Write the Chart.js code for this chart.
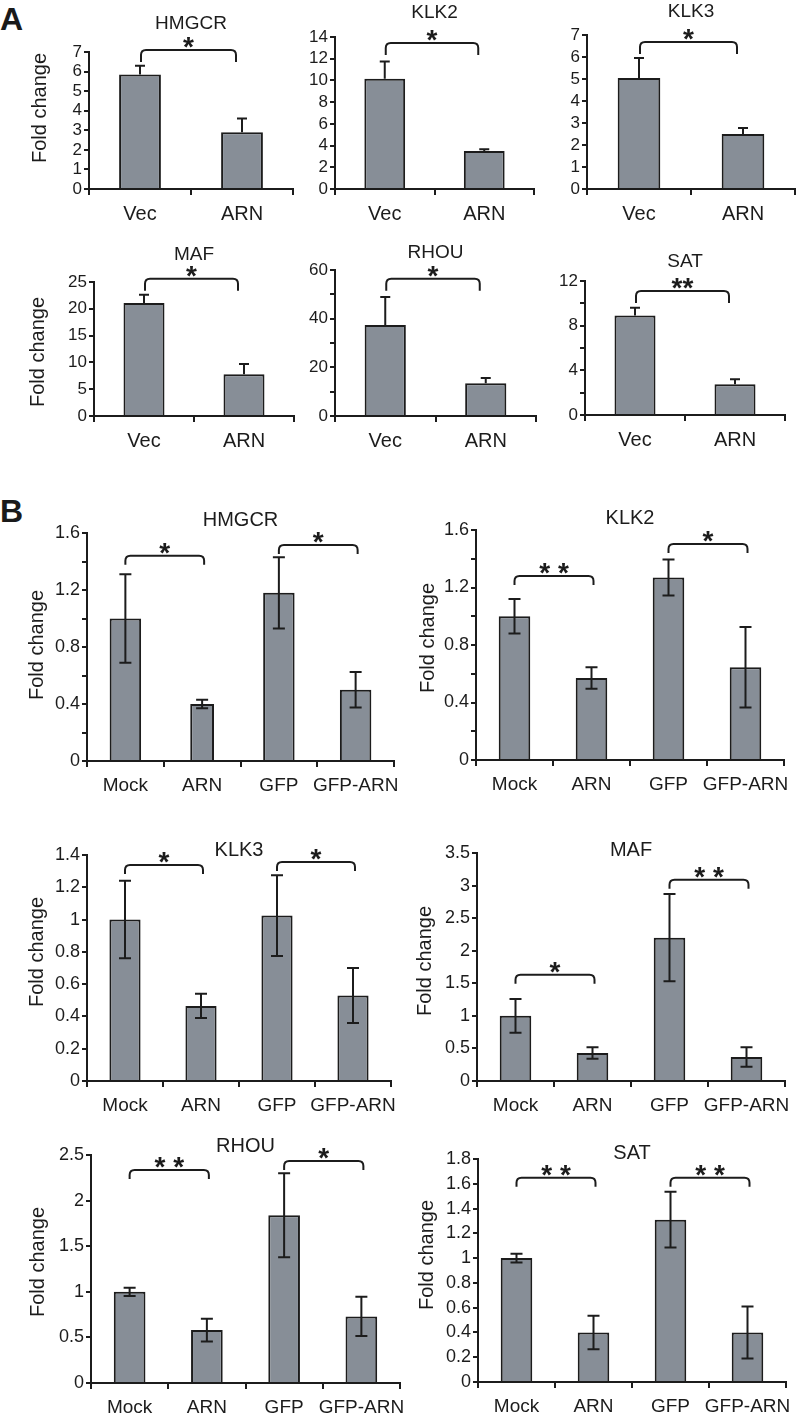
<!DOCTYPE html>
<html><head><meta charset="utf-8">
<script src="https://cdn.jsdelivr.net/npm/chart.js@4.4.1/dist/chart.umd.min.js"></script>
<style>
html,body{margin:0;padding:0;background:#fff;}
#page{position:relative;width:800px;height:1415px;overflow:hidden;background:#fff;}
#page canvas{position:absolute;}
.letter{position:absolute;font:bold 32px 'Liberation Sans',Arial,sans-serif;line-height:32px;color:#1a1a1a;}
</style></head><body><div id="page">
<div class="letter" style="left:0px;top:3px">A</div>
<div class="letter" style="left:0px;top:495px">B</div>
</div>
<script>
// ---------- DATA ----------
const catsA = ['Vec', 'ARN'];
const catsB = ['Mock', 'ARN', 'GFP', 'GFP-ARN'];
const genes = ['HMGCR', 'KLK2', 'KLK3', 'MAF', 'RHOU', 'SAT'];

// Panel A: mean fold change and (upper) error
const meanA_HMGCR = [5.85, 2.9];   const errA_HMGCR = [0.45, 0.7];
const meanA_KLK2  = [10.15, 3.5];  const errA_KLK2  = [1.6, 0.15];
const meanA_KLK3  = [5.05, 2.5];   const errA_KLK3  = [0.9, 0.27];
const meanA_MAF   = [21.1, 7.8];   const errA_MAF   = [1.5, 1.9];
const meanA_RHOU  = [37.4, 13.5];  const errA_RHOU  = [11.5, 2.1];
const meanA_SAT   = [8.9, 2.75];   const errA_SAT   = [0.7, 0.45];

// Panel B: mean fold change and error (+/-)
const meanB_HMGCR = [1.0, 0.40, 1.18, 0.50];  const errB_HMGCR = [0.31, 0.03, 0.25, 0.125];
const meanB_KLK2  = [1.0, 0.57, 1.27, 0.645]; const errB_KLK2  = [0.12, 0.075, 0.125, 0.28];
const meanB_KLK3  = [1.0, 0.465, 1.025, 0.53];const errB_KLK3  = [0.24, 0.075, 0.25, 0.17];
const meanB_MAF   = [1.0, 0.43, 2.2, 0.37];   const errB_MAF   = [0.26, 0.09, 0.67, 0.15];
const meanB_RHOU  = [1.0, 0.58, 1.84, 0.73];  const errB_RHOU  = [0.045, 0.125, 0.46, 0.215];
const meanB_SAT   = [1.0, 0.40, 1.31, 0.40];  const errB_SAT   = [0.035, 0.135, 0.225, 0.21];

// y-axis ticks
const yMaxA = [7, 14, 7, 25, 60, 12];
const yStepA = [1, 2, 1, 5, 10, 2];
const yLabelEveryA = [1, 1, 1, 1, 2, 2];
const yMaxB = [1.6, 1.6, 1.4, 3.5, 2.5, 1.8];
const yStepB = [0.2, 0.2, 0.2, 0.5, 0.5, 0.2];
const yLabelEveryB = [2, 2, 1, 1, 1, 1];

// significance markers and bracket levels (data units)
const sigA = ['*', '*', '*', '*', '*', '**'];
const bracketA = [7.1, 13.45, 6.68, 25.6, 56.4, 11.1];
const sigB_left = ['*', '* *', '*', '*', '* *', '* *'];
const sigB_right = ['*', '*', '*', '* *', '*', '* *'];
const bracketB_left = [1.44, 1.28, 1.338, 1.63, 2.335, 1.648];
const bracketB_right = [1.516, 1.503, 1.357, 3.09, 2.434, 1.648];

const meansA = [meanA_HMGCR, meanA_KLK2, meanA_KLK3, meanA_MAF, meanA_RHOU, meanA_SAT];
const errsA  = [errA_HMGCR, errA_KLK2, errA_KLK3, errA_MAF, errA_RHOU, errA_SAT];
const meansB = [meanB_HMGCR, meanB_KLK2, meanB_KLK3, meanB_MAF, meanB_RHOU, meanB_SAT];
const errsB  = [errB_HMGCR, errB_KLK2, errB_KLK3, errB_MAF, errB_RHOU, errB_SAT];

// ---------- LAYOUT / STYLE ----------
const INK = '#1c1c1c';
const FILL = '#878e97';
const FONT = "'Liberation Sans', Arial, Helvetica, sans-serif";

const LAYOUT_A = [
  {L:89,  T:52,  R:293, B:189, titleDy:28, fold:[40,108]},
  {L:335, T:37,  R:534, B:189, titleDy:24, fold:null},
  {L:587, T:35,  R:795, B:189, titleDy:23, fold:null},
  {L:94,  T:282, R:294, B:416, titleDy:27, fold:[38,352]},
  {L:335, T:270, R:536, B:416, titleDy:17, fold:null},
  {L:585, T:281, R:785, B:415, titleDy:19, fold:null}
];
const LAYOUT_B = [
  {L:87,  T:533,  R:394, B:761,  titleDy:13, fold:[37,645],  narrow:[1]},
  {L:476, T:530,  R:784, B:760,  titleDy:12, fold:[428,638], narrow:[]},
  {L:87,  T:855,  R:391, B:1081, titleDy:5,  fold:[37,952],  narrow:[]},
  {L:477, T:853,  R:785, B:1081, titleDy:3,  fold:[425,961], narrow:[]},
  {L:91,  T:1155, R:400, B:1383, titleDy:9,  fold:[38,1262], narrow:[]},
  {L:478, T:1159, R:786, B:1382, titleDy:6,  fold:[427,1255],narrow:[]}
];

const fmtNum = v => String(parseFloat(Number(v).toFixed(2)));

const annot = {
  id: 'annot',
  afterDraw(chart, args, o) {
    const ctx = chart.ctx, xs = chart.scales.x, ys = chart.scales.y, ca = chart.chartArea;
    ctx.save();
    ctx.strokeStyle = INK; ctx.fillStyle = INK; ctx.lineWidth = 2;
    o.means.forEach((m, i) => {
      const px = xs.getPixelForValue(i);
      const top = ys.getPixelForValue(m + o.errs[i]);
      const bot = o.twoSided ? ys.getPixelForValue(m - o.errs[i]) : ys.getPixelForValue(m);
      ctx.beginPath();
      ctx.moveTo(px, bot); ctx.lineTo(px, top);
      ctx.moveTo(px - o.cap, top); ctx.lineTo(px + o.cap, top);
      if (o.twoSided) { ctx.moveTo(px - o.cap, bot); ctx.lineTo(px + o.cap, bot); }
      ctx.stroke();
    });
    o.brackets.forEach(b => {
      const x1 = xs.getPixelForValue(b.from) + o.inset[0];
      const x2 = xs.getPixelForValue(b.to) + o.inset[1];
      const yt = ys.getPixelForValue(b.level);
      const yb = yt + o.drop, r = 5;
      ctx.beginPath();
      ctx.moveTo(x1, yb); ctx.lineTo(x1, yt + r); ctx.quadraticCurveTo(x1, yt, x1 + r, yt);
      ctx.lineTo(x2 - r, yt); ctx.quadraticCurveTo(x2, yt, x2, yt + r); ctx.lineTo(x2, yb);
      ctx.stroke();
      ctx.font = 'bold 28px ' + FONT; ctx.textAlign = 'center'; ctx.textBaseline = 'alphabetic';
      ctx.fillText(b.label, (x1 + x2) / 2, yt + 6);
    });
    ctx.font = o.titleSize + 'px ' + FONT; ctx.textAlign = 'center'; ctx.textBaseline = 'middle';
    ctx.fillText(o.title, (ca.left + ca.right) / 2, ca.top - o.titleDy);
    if (o.fold) {
      ctx.save(); ctx.translate(o.fold[0], o.fold[1]); ctx.rotate(-Math.PI / 2);
      ctx.font = '20px ' + FONT; ctx.textAlign = 'center'; ctx.textBaseline = 'middle';
      ctx.fillText('Fold change', 0, 0); ctx.restore();
    }
    ctx.restore();
  }
};

const page = document.getElementById('page');

function tickValues(yMax, yStep) {
  const n = Math.round(yMax / yStep), out = [];
  for (let i = 0; i <= n; i++) out.push({ value: parseFloat((i * yStep).toFixed(6)) });
  return out;
}

function makePanel(lay, cats, means, errs, yMax, yStep, every, title, brackets, isB) {
  const cx = lay.L - 80, cy = lay.T - 45;
  const cw = lay.R - lay.L + 100, ch = lay.B - lay.T + 85;
  const cv = document.createElement('canvas');
  cv.width = cw; cv.height = ch;
  cv.style.left = cx + 'px'; cv.style.top = cy + 'px';
  cv.style.width = cw + 'px'; cv.style.height = ch + 'px';
  page.appendChild(cv);
  const YW = 40, XH = 40;
  const narrow = lay.narrow || [];
  const datasets = [{
    data: means.map((m, i) => narrow.includes(i) ? null : m),
    backgroundColor: FILL, borderColor: INK, borderWidth: 2,
    barPercentage: 0.41, categoryPercentage: 1, grouped: false
  }];
  if (narrow.length) {
    datasets.push({
      data: means.map((m, i) => narrow.includes(i) ? m : null),
      backgroundColor: FILL, borderColor: INK, borderWidth: 2,
      barPercentage: 0.31, categoryPercentage: 1, grouped: false
    });
  }
  new Chart(cv, {
    type: 'bar',
    data: { labels: cats, datasets },
    options: {
      responsive: false, animation: false, devicePixelRatio: 1,
      layout: { padding: { left: (lay.L - cx) - YW, top: lay.T - cy, right: (cx + cw) - lay.R, bottom: (cy + ch) - lay.B - XH } },
      plugins: {
        legend: { display: false }, tooltip: { enabled: false }, title: { display: false },
        annot: {
          means, errs, twoSided: isB, cap: isB ? 6 : 5,
          brackets, inset: isB ? [0, 2] : [1, -6], drop: isB ? 9 : 12,
          title, titleSize: isB ? 20 : 19, titleDy: lay.titleDy,
          fold: lay.fold ? [lay.fold[0] - cx, lay.fold[1] - cy] : null
        }
      },
      scales: {
        x: {
          type: 'category', offset: true, z: 1,
          grid: { offset: true, drawOnChartArea: false, drawTicks: true, tickLength: 6, color: INK, lineWidth: 2 },
          border: { display: true, color: INK, width: 2 },
          ticks: { color: INK, font: { family: FONT, size: isB ? 19 : 20 }, padding: 7, maxRotation: 0, autoSkip: false },
          afterFit(s) { s.height = XH; }
        },
        y: {
          type: 'linear', min: 0, max: yMax, z: 1,
          grid: { drawOnChartArea: false, drawTicks: true, tickLength: 5, color: INK, lineWidth: 2 },
          border: { display: true, color: INK, width: 2 },
          ticks: { color: INK, font: { family: FONT, size: isB ? 18 : 17 }, padding: 2, autoSkip: false,
                   callback: (v, i) => (i % every === 0 ? fmtNum(v) : '') },
          afterBuildTicks(s) { s.ticks = tickValues(yMax, yStep); },
          afterFit(s) { s.width = YW; }
        }
      }
    },
    plugins: [annot]
  });
}

for (let k = 0; k < 6; k++) {
  makePanel(LAYOUT_A[k], catsA, meansA[k], errsA[k], yMaxA[k], yStepA[k], yLabelEveryA[k], genes[k],
    [{from: 0, to: 1, level: bracketA[k], label: sigA[k]}], false);
  makePanel(LAYOUT_B[k], catsB, meansB[k], errsB[k], yMaxB[k], yStepB[k], yLabelEveryB[k], genes[k],
    [{from: 0, to: 1, level: bracketB_left[k], label: sigB_left[k]},
     {from: 2, to: 3, level: bracketB_right[k], label: sigB_right[k]}], true);
}
</script>
</body></html>
